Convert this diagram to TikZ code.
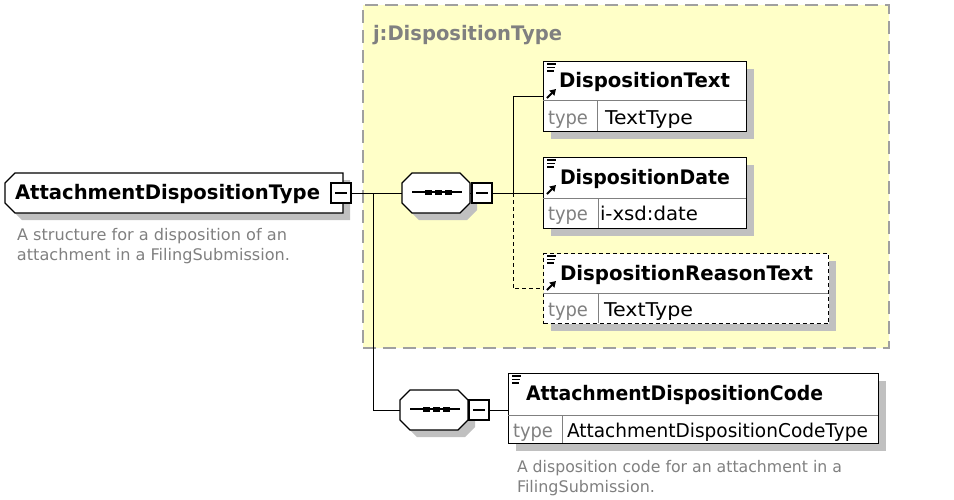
\documentclass[tikz,border=0pt]{standalone}
\usepackage{fontspec}
\setmainfont{DejaVu Sans}
\usepackage{graphicx}
\usetikzlibrary{shadows,arrows.meta}
\definecolor{ybg}{RGB}{255,255,200}
\definecolor{shadowc}{RGB}{192,192,192}
\definecolor{dashc}{RGB}{160,160,160}
\definecolor{txtgray}{RGB}{128,128,128}
\newcommand\fitw[2]{\resizebox{#1pt}{\height}{#2}}
\tikzset{
  lbl/.style={anchor=base west, inner sep=0pt, outer sep=0pt},
  namefont/.style={font=\fontsize{20}{20}\selectfont\bfseries},
  regfont/.style={font=\fontsize{19}{19}\selectfont},
  descfont/.style={font=\fontsize{16}{16}\selectfont, text=txtgray},
  shad/.style={general shadow={fill=shadowc, shadow xshift=7pt, shadow yshift=-7pt}},
  elbox/.style={draw=black, line width=1.3pt, fill=white, rectangle, inner sep=0pt, anchor=north west, shad},
  area/.style={rectangle, inner sep=0pt, outer sep=0pt, anchor=north west},
  outline/.style={draw=black, line width=1.3pt, fill=white},
  shadowfill/.style={fill=shadowc},
  minusbox/.style={draw=black, line width=1.3pt, fill=white, rectangle, inner sep=0pt, minimum width=20pt, minimum height=20pt},
  conn/.style={draw=black, line width=1pt},
  divider/.style={draw=txtgray, line width=0.8pt},
}
\begin{document}
\begin{tikzpicture}[x=1pt,y=-1pt]
\useasboundingbox (0,0) rectangle (954,499);
% yellow group
\node[draw=dashc, fill=ybg, line width=2pt, dash pattern=on 13pt off 7pt, rectangle, inner sep=0pt, anchor=north west, minimum width=526pt, minimum height=343pt] (grp) at (362,4) {};
\node[lbl, namefont, text=txtgray] (grplbl) at (373,40) {\fitw{189}{j:DispositionType}};

% root
\node[area, minimum width=338pt, minimum height=40pt] (root) at (5,173) {};
\fill[shadowfill, shift={(7,7)}] (15,173) -- (343,173) -- (343,213) -- (15,213) -- (5,203) -- (5,183) -- cycle;
\path[outline] (15,173) -- (343,173) -- (343,213) -- (15,213) -- (5,203) -- (5,183) -- cycle;
\node[lbl, namefont] (rootname) at (15,199) {\fitw{305}{AttachmentDispositionType}};
\node[minusbox] (rm) at (341,193) {};
\draw[line width=1.2pt] ([xshift=-6pt]rm.center) -- ([xshift=6pt]rm.center);
\node[lbl, descfont] (rootd1) at (17,240) {\fitw{270}{A structure for a disposition of an}};
\node[lbl, descfont] (rootd2) at (17,260) {\fitw{273}{attachment in a FilingSubmission.}};

% compositor 1
\node[area, minimum width=68pt, minimum height=40pt] (s1) at (402,173) {};
\fill[shadowfill, shift={(7,7)}] (412,173) -- (460,173) -- (470,183) -- (470,203) -- (460,213) -- (412,213) -- (402,203) -- (402,183) -- cycle;
\path[outline] (412,173) -- (460,173) -- (470,183) -- (470,203) -- (460,213) -- (412,213) -- (402,203) -- (402,183) -- cycle;
\node[minusbox] (m1) at (482,193) {};
\draw[line width=1.2pt] ([xshift=-6pt]m1.center) -- ([xshift=6pt]m1.center);
\draw[line width=1.2pt] (412,192) -- (462,192);
\foreach \dx in {428,438,448} \fill (\dx-3.5,189.5) rectangle (\dx+3.5,194.5);

% compositor 2
\node[area, minimum width=68pt, minimum height=40pt] (s2) at (400,390) {};
\fill[shadowfill, shift={(7,7)}] (410,390) -- (458,390) -- (468,400) -- (468,420) -- (458,430) -- (410,430) -- (400,420) -- (400,400) -- cycle;
\path[outline] (410,390) -- (458,390) -- (468,400) -- (468,420) -- (458,430) -- (410,430) -- (400,420) -- (400,400) -- cycle;
\node[minusbox] (m2) at (479,410) {};
\draw[line width=1.2pt] ([xshift=-6pt]m2.center) -- ([xshift=6pt]m2.center);
\draw[line width=1.2pt] (410,409) -- (460,409);
\foreach \dx in {426,436,446} \fill (\dx-3.5,406.5) rectangle (\dx+3.5,411.5);

% element DispositionText
\node[elbox, minimum width=203pt, minimum height=70pt] (dt) at (543,61) {};
\draw[divider] (543,100) -- (746,100);
\draw[divider] (597,100) -- (597,131);
\node[lbl, namefont] (dtn) at (559,87) {\fitw{171}{DispositionText}};
\node[lbl, regfont, text=txtgray] (dtt) at (548,124) {\fitw{40}{type}};
\node[lbl, regfont] (dtv) at (605,124) {\fitw{88}{TextType}};

% element DispositionDate
\node[elbox, minimum width=203pt, minimum height=71pt] (dd) at (543,157) {};
\draw[divider] (543,198) -- (746,198);
\draw[divider] (598,198) -- (598,228);
\node[lbl, namefont] (ddn) at (560,184) {\fitw{170}{DispositionDate}};
\node[lbl, regfont, text=txtgray] (ddt) at (548,220) {\fitw{40}{type}};
\node[lbl, regfont] (ddv) at (600,220) {\fitw{98}{i-xsd:date}};

% element DispositionReasonText (optional)
\node[elbox, dash pattern=on 4pt off 3pt, minimum width=285pt, minimum height=70pt] (dr) at (543,253) {};
\draw[divider] (543,293) -- (828,293);
\draw[divider] (598,293) -- (598,323);
\node[lbl, namefont] (drn) at (560,280) {\fitw{253}{DispositionReasonText}};
\node[lbl, regfont, text=txtgray] (drt) at (548,316) {\fitw{40}{type}};
\node[lbl, regfont] (drv) at (604,316) {\fitw{89}{TextType}};

% element AttachmentDispositionCode
\node[elbox, minimum width=370pt, minimum height=70pt] (ac) at (508,373) {};
\draw[divider] (508,415) -- (878,415);
\draw[divider] (562,415) -- (562,443);
\node[lbl, namefont] (acn) at (526,400) {\fitw{297}{AttachmentDispositionCode}};
\node[lbl, regfont, text=txtgray] (act) at (513,437) {\fitw{40}{type}};
\node[lbl, regfont] (acv) at (567,437) {\fitw{301}{AttachmentDispositionCodeType}};
\node[lbl, descfont] (acd1) at (517,472) {\fitw{325}{A disposition code for an attachment in a}};
\node[lbl, descfont] (acd2) at (517,492) {\fitw{138}{FilingSubmission.}};

% icons (annotation lines and reference arrows)
\foreach \ox/\oy in {543/61, 543/157, 543/253, 508/373} {
  \draw[line width=1.2pt] (\ox+4,\oy+3) -- (\ox+13,\oy+3);
  \draw[line width=1.2pt] (\ox+4,\oy+6.5) -- (\ox+12,\oy+6.5);
  \draw[line width=1.2pt] (\ox+4,\oy+10) -- (\ox+11,\oy+10);
}
\foreach \oy in {61, 157, 253} {
  \draw[line width=2pt, -{Triangle[length=6pt,width=7pt]}] (547,\oy+37) -- (556,\oy+28);
}

% connectors
\coordinate (b0) at (373,193);
\coordinate (b1) at (513,193);
\draw[conn] (rm.east) -- (s1.west);
\draw[conn] (b0) |- (s2.west);
\draw[conn] (s1.east) -- (m1.west);
\draw[conn] (m1.east) -- (dd.west |- m1.east);
\draw[conn] (dt.west) -| (b1);
\draw[conn, dash pattern=on 4pt off 3pt] (b1) |- (dr.west);
\draw[conn] (s2.east) -- (m2.west);
\draw[conn] (m2.east) -- (ac.west |- m2.east);
\end{tikzpicture}
\end{document}
